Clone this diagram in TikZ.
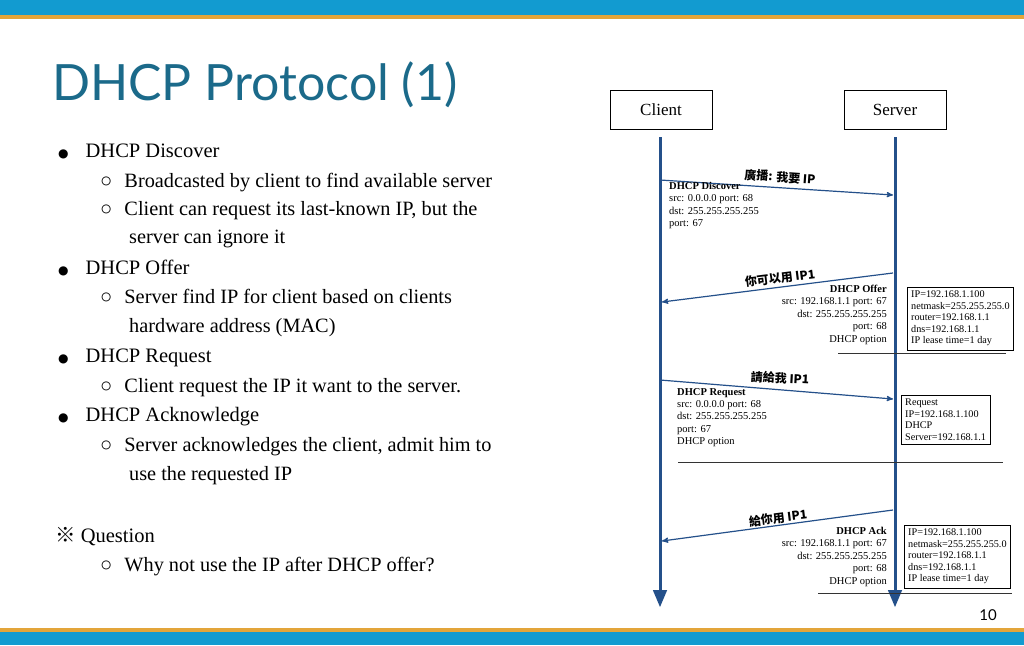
\documentclass[tikz,border=0pt]{standalone}
\usepackage{fontspec}
\setmainfont{Liberation Serif}
\newfontfamily\titlefont{Lato}
\newfontfamily\cjk{Noto Sans CJK TC}
\newfontfamily\symfont{DejaVu Sans}
\usetikzlibrary{arrows,positioning}
\definecolor{topblue}{HTML}{129BD0}
\definecolor{bandorange}{HTML}{E3A53A}
\definecolor{titleteal}{HTML}{1B6A8A}
\definecolor{lifeblue}{HTML}{24508A}
\newcommand\bigdot{{\symfont\fontsize{12}{12}\selectfont●}\hspace{17pt}}

\begin{document}
\begin{tikzpicture}[x=1pt,y=-1pt,>=triangle 45,
  bullet/.style={anchor=base west,inner sep=0pt,font=\fontsize{20.5}{22}\selectfont},
  sub/.style={anchor=base west,inner sep=0pt,font=\fontsize{20.3}{22}\selectfont},
  party/.style={draw,minimum width=102pt,minimum height=39pt,font=\fontsize{17}{19}\selectfont},
  life/.style={->,lifeblue,line width=3pt},
  msg/.style={->,lifeblue,line width=1.2pt,>=stealth'},
  cjklab/.style={font=\cjk\bfseries\fontsize{12}{13}\selectfont},
  pkt/.style={font=\fontsize{10.5}{12.4}\selectfont,align=left,inner sep=0pt},
  info/.style={draw,font=\fontsize{10.2}{11.5}\selectfont,align=left,inner sep=4pt},
  rule/.style={gray!40!black,line width=0.6pt}]
    \useasboundingbox (0,0) rectangle (1024,645);
    \fill[topblue] (0,0) rectangle (1024,15);
    \fill[bandorange] (0,15) rectangle (1024,19);
    \fill[topblue] (0,628) rectangle (1024,645);
    \fill[bandorange] (0,628) rectangle (1024,632);
    \node[anchor=base west,text=titleteal,font=\titlefont\fontsize{50}{52}\selectfont,inner sep=0pt] (title) at (52,100) {DHCP Protocol (1)};
    % left bullets
    \node[bullet] (b1) at (58,157) {\bigdot DHCP Discover};
    \node[sub] (s1) at (100,187) {○\hspace{12pt}Broadcasted by client to find available server};
    \node[sub] (s2) at (100,215) {○\hspace{12pt}Client can request its last-known IP, but the};
    \node[sub] (s2b) at (129,243) {server can ignore it};
    \node[bullet] (b2) at (58,274) {\bigdot DHCP Offer};
    \node[sub] (s3) at (100,303) {○\hspace{12pt}Server find IP for client based on clients};
    \node[sub] (s3b) at (129,332) {hardware address (MAC)};
    \node[bullet] (b3) at (58,362) {\bigdot DHCP Request};
    \node[sub] (s4) at (100,392) {○\hspace{12pt}Client request the IP it want to the server.};
    \node[bullet] (b4) at (58,421) {\bigdot DHCP Acknowledge};
    \node[sub] (s5) at (100,451) {○\hspace{12pt}Server acknowledges the client, admit him to};
    \node[sub] (s5b) at (129,480) {use the requested IP};
    \node[bullet] (q) at (55,542) {{\cjk ※} Question};
    \node[sub] (s6) at (100,571) {○\hspace{12pt}Why not use the IP after DHCP offer?};
    % parties
    \node[party] (client) at (661,110) {Client};
    \node[party] (server) at (895,110) {Server};
    \coordinate (cend) at (660,607);
    \coordinate (send) at (895,607);
    \draw[life] (660,137) -- (cend);
    \draw[life] (895,137) -- (send);
    % discover
    \coordinate (d1) at (660,180); \coordinate (d2) at (893,195);
    \draw[msg] (d1) -- (d2);
    \node[cjklab,rotate=-4] (dlab) at (780,177) {廣播: 我要 IP};
    \node[pkt,anchor=north west] (dpkt) at (669,182) {\textbf{DHCP Discover}\\src: 0.0.0.0 port: 68\\dst: 255.255.255.255\\port: 67};
    % offer
    \coordinate (o1) at (893,273); \coordinate (o2) at (662,302);
    \draw[msg] (o1) -- (o2);
    \node[cjklab,rotate=7] (olab) at (780,278) {你可以用 IP1};
    \node[pkt,align=right,anchor=north east] (opkt) at (887,285) {\textbf{DHCP Offer}\\src: 192.168.1.1 port: 67\\dst: 255.255.255.255\\port: 68\\DHCP option};
    \node[info,anchor=north west] (obox) at (907,287) {IP=192.168.1.100\\netmask=255.255.255.0\\router=192.168.1.1\\dns=192.168.1.1\\IP lease time=1 day};
    \draw[rule] (838,353) -- (1006,353);
    % request
    \coordinate (r1) at (660,380); \coordinate (r2) at (893,399);
    \draw[msg] (r1) -- (r2);
    \node[cjklab,rotate=-3] (rlab) at (780,378) {請給我 IP1};
    \node[pkt,anchor=north west] (rpkt) at (677,388) {\textbf{DHCP Request}\\src: 0.0.0.0 port: 68\\dst: 255.255.255.255\\port: 67\\DHCP option};
    \node[info,anchor=north west] (rbox) at (901,395) {Request\\IP=192.168.1.100\\DHCP\\Server=192.168.1.1};
    \draw[rule] (678,462) -- (1003,462);
    % ack
    \coordinate (a1) at (893,510); \coordinate (a2) at (662,541);
    \draw[msg] (a1) -- (a2);
    \node[cjklab,rotate=7] (alab) at (778,518) {給你用 IP1};
    \node[pkt,align=right,anchor=north east] (apkt) at (887,527) {\textbf{DHCP Ack}\\src: 192.168.1.1 port: 67\\dst: 255.255.255.255\\port: 68\\DHCP option};
    \node[info,anchor=north west] (abox) at (904,525) {IP=192.168.1.100\\netmask=255.255.255.0\\router=192.168.1.1\\dns=192.168.1.1\\IP lease time=1 day};
    \draw[rule] (818,593) -- (1012,593);
    \node[font=\titlefont\fontsize{15}{17}\selectfont] (page) at (988,615) {10};
\end{tikzpicture}
\end{document}
